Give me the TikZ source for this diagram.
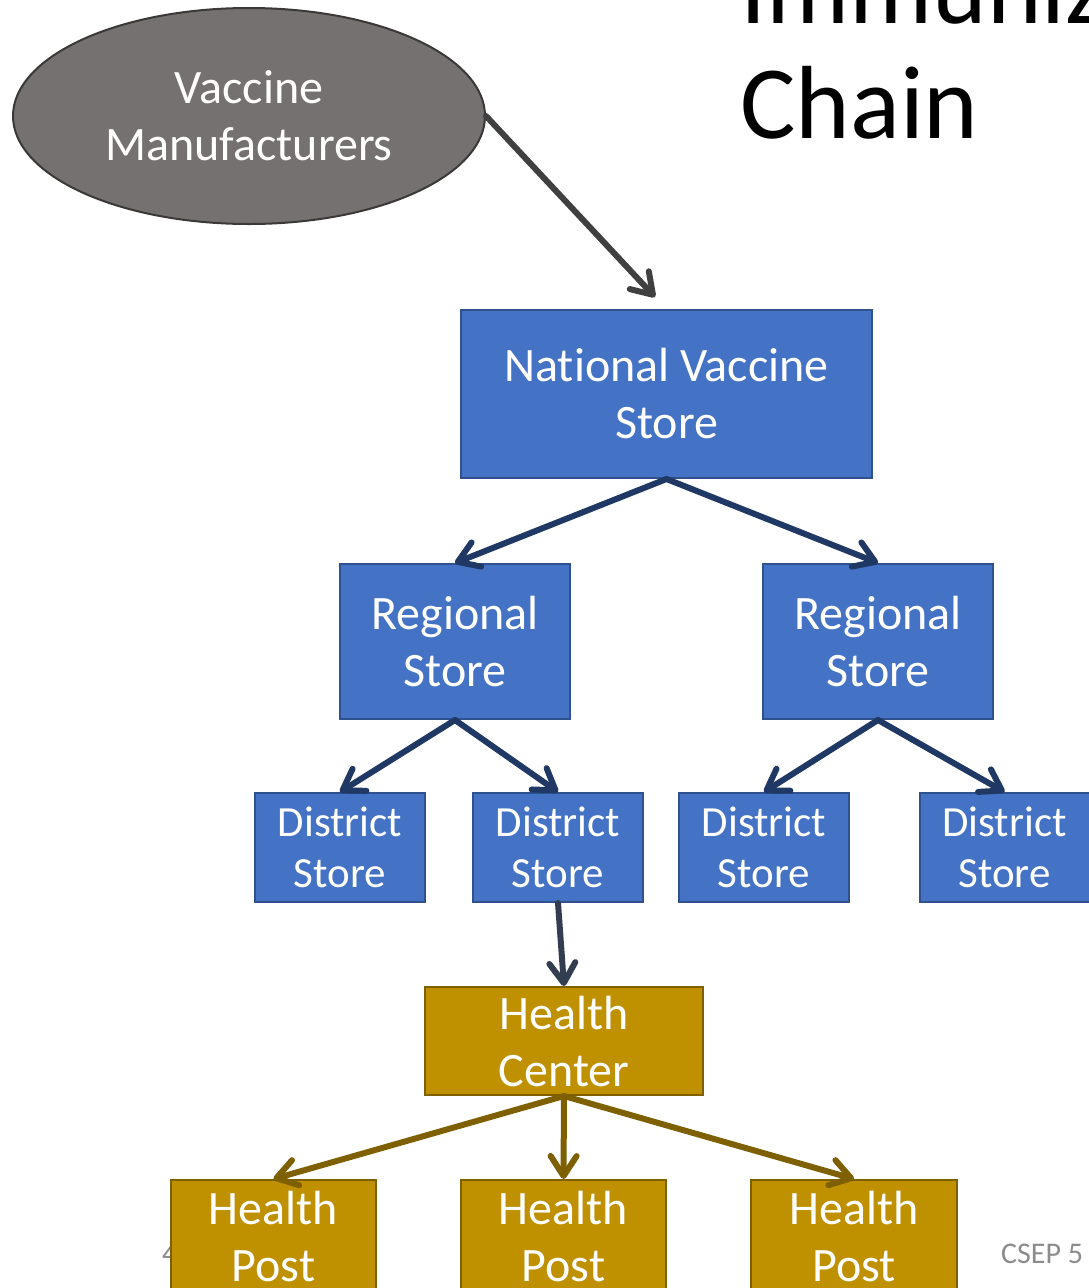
\documentclass[tikz,border=0pt]{standalone}
\usepackage{fontspec}
\setmainfont{Carlito}[Ligatures={NoCommon,NoRequired,NoContextual,NoRare}]
\usetikzlibrary{shapes.geometric,arrows.meta}
\definecolor{bluefill}{HTML}{4472C4}
\definecolor{blueline}{HTML}{2F528F}
\definecolor{navy}{HTML}{203864}
\definecolor{slate}{HTML}{323E50}
\definecolor{goldfill}{HTML}{BF9000}
\definecolor{goldline}{HTML}{7F6000}
\definecolor{grayfill}{HTML}{767171}
\definecolor{grayline}{HTML}{3B3838}
\definecolor{darkarrow}{HTML}{404040}
\definecolor{footgray}{HTML}{8C8C8C}
\tikzset{
  box/.style={rectangle, draw, line width=2pt, inner sep=0pt, align=center, text=white},
  bluebox/.style={box, fill=bluefill, draw=blueline},
  goldbox/.style={box, fill=goldfill, draw=goldline},
  bigtxt/.style={font=\fontsize{48}{57}\selectfont},
  smalltxt/.style={font=\fontsize{43}{51}\selectfont},
  conn/.style={line width=6pt, line cap=round, line join=round, -{Straight Barb[length=20pt,width=26pt,line cap=round,line join=round]}},
  navyarrow/.style={conn, draw=navy},
  slatearrow/.style={conn, draw=slate},
  goldarrow/.style={conn, draw=goldline},
  grayarrow/.style={conn, draw=darkarrow},
}
\begin{document}
\begin{tikzpicture}[x=1pt,y=-1pt]
\useasboundingbox (0,0) rectangle (1089,1288);
\clip (0,0) rectangle (1089,1288);
\fill[white] (0,0) rectangle (1089,1288);

% title
\node[anchor=base west, inner sep=0pt, font=\fontsize{104}{110}\selectfont] (t1) at (740,23) {Immunization};
\node[anchor=base west, inner sep=0pt, font=\fontsize{104}{110}\selectfont] (t2) at (740,138) {Chain};

% footer
\node[anchor=base west, inner sep=0pt, text=footgray, font=\fontsize{30}{33}\selectfont] (pg) at (162,1263) {4};
\node[anchor=base west, inner sep=0pt, text=footgray, font=\fontsize{30}{33}\selectfont] (ft) at (1001,1263) {CSEP 5};

% nodes
\node[ellipse, draw=grayline, fill=grayfill, line width=2pt, minimum width=472pt, minimum height=216pt, inner sep=0pt, align=center, text=white, bigtxt] (vm) at (249,116) {Vaccine\\Manufacturers};
\node[bluebox, bigtxt, minimum width=411pt, minimum height=168pt] (nat) at (666.5,394) {National Vaccine\\Store};
\node[bluebox, bigtxt, minimum width=230pt, minimum height=155pt] (reg1) at (455,641.5) {Regional\\Store};
\node[bluebox, bigtxt, minimum width=230pt, minimum height=155pt] (reg2) at (878,641.5) {Regional\\Store};
\node[bluebox, smalltxt, minimum width=170pt, minimum height=109pt] (d1) at (340,847.5) {District\\Store};
\node[bluebox, smalltxt, minimum width=170pt, minimum height=109pt] (d2) at (558,847.5) {District\\Store};
\node[bluebox, smalltxt, minimum width=170pt, minimum height=109pt] (d3) at (764,847.5) {District\\Store};
\node[bluebox, smalltxt, minimum width=170pt, minimum height=109pt] (d4) at (1004.5,847.5) {District\\Store};
\node[goldbox, bigtxt, minimum width=278pt, minimum height=108pt] (hc) at (564,1041) {Health\\Center};
\node[goldbox, bigtxt, minimum width=205pt, minimum height=112pt] (hp1) at (273.5,1236) {Health\\Post};
\node[goldbox, bigtxt, minimum width=205pt, minimum height=112pt] (hp2) at (563.5,1236) {Health\\Post};
\node[goldbox, bigtxt, minimum width=206pt, minimum height=112pt] (hp3) at (854,1236) {Health\\Post};

% connectors
\coordinate (natin) at (655,297);
\draw[grayarrow] (vm.east) -- (natin);
\draw[navyarrow] (nat.south) -- (reg1.north);
\draw[navyarrow] (nat.south) -- (reg2.north);
\draw[navyarrow] (reg1.south) -- (d1.north);
\draw[navyarrow] (reg1.south) -- (d2.north);
\draw[navyarrow] (reg2.south) -- (d3.north);
\draw[navyarrow] (reg2.south) -- (d4.north);
\draw[slatearrow] (d2.south) -- (hc.north);
\draw[goldarrow] (hc.south) -- (hp1.north);
\draw[goldarrow] (hc.south) -- (hp2.north);
\draw[goldarrow] (hc.south) -- (hp3.north);
\end{tikzpicture}
\end{document}
